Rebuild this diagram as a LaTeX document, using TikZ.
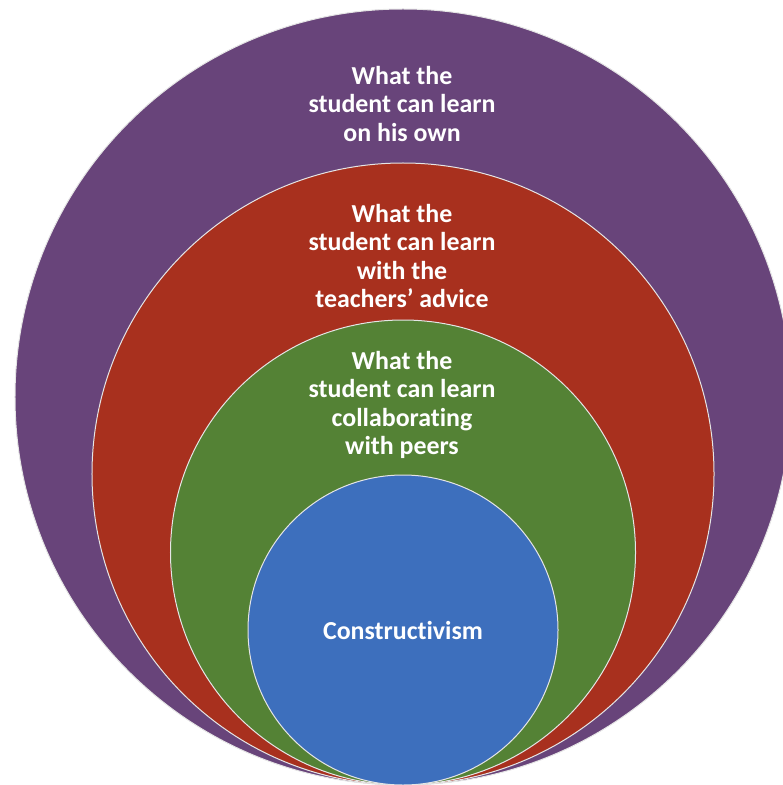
\documentclass[tikz,border=0pt]{standalone}
\usepackage{fontspec}
\setmainfont{Carlito}[Ligatures=NoCommon]
\usepackage{tikz}
\usepackage{xcolor}

\definecolor{ownpurple}{HTML}{68447A}
\definecolor{advicered}{HTML}{A8301E}
\definecolor{peergreen}{HTML}{548235}
\definecolor{coreblue}{HTML}{3D6FBD}

\tikzset{
    ring/.style={circle, draw=white!80!gray, line width=1bp, inner sep=0pt},
    ringtext/.style={text=white, align=center, font=\bfseries\fontsize{26}{28.5}\selectfont}
}

\begin{document}
\begin{tikzpicture}[x=1bp, y=-1bp]
        % Page (same size as the reference)
        \useasboundingbox (0,0) rectangle (783,785);
        \clip (0,0) rectangle (783,785);
        % Nested circles, all touching at the bottom
        \node[ring, fill=ownpurple, minimum size=776bp] (own) at (403,397) {};
        \node[ring, fill=advicered, minimum size=622bp] (advice) at (403,474) {};
        \node[ring, fill=peergreen, minimum size=465bp] (peers) at (403,552.5) {};
        \node[ring, fill=coreblue, minimum size=310bp] (core) at (403,630) {};
        % Labels
        \node[ringtext] (owntext) at (402,104) {What the\\student can learn\\on his own};
        \node[ringtext] (advicetext) at (402,256) {What the\\student can learn\\with the\\teachers’ advice};
        \node[ringtext] (peerstext) at (402,405) {What the\\student can learn\\collaborating\\with peers};
        \node[ringtext] (coretext) at (core.center) {Constructivism};
    \end{tikzpicture}
\end{document}
